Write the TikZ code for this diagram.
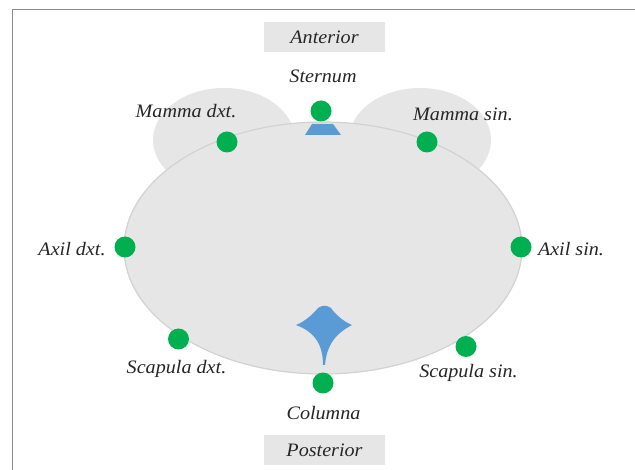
\documentclass[tikz,border=0pt]{standalone}
\usepackage{fontspec}
\setmainfont{Liberation Serif}[ItalicFeatures={FakeStretch=1.06}]
\definecolor{tissue}{HTML}{E6E6E6}
\definecolor{outline}{HTML}{D2D2D2}
\definecolor{bone}{HTML}{5B9BD5}
\definecolor{lead}{HTML}{00B050}
\definecolor{frameline}{HTML}{8C8C8C}
\tikzset{
  lbl/.style={font=\fontsize{19}{21}\selectfont\itshape, text=black!85, inner sep=0pt},
  dirbox/.style={fill=tissue, minimum width=121pt, minimum height=30pt, inner sep=0pt, font=\fontsize{19}{21}\selectfont\itshape, text=black!85},
  electrode/.style={circle, fill=lead, minimum size=21pt, inner sep=0pt}
}
\begin{document}
\begin{tikzpicture}[x=1pt,y=-1pt]
  \useasboundingbox (0,0) rectangle (635,470);
  \fill[white] (0,0) rectangle (635,470);
  % open frame along the top and the left
  \draw[frameline, line width=1.1pt] (12.5,470) -- (12.5,9.5) -- (635,9.5);
  % breasts and thorax
  \fill[tissue] (224,140) ellipse [x radius=71, y radius=52];
  \fill[tissue] (420,140) ellipse [x radius=71, y radius=52];
  \draw[outline, fill=tissue, line width=1.2pt] (323,248) ellipse [x radius=199, y radius=126];
  % sternum
  \fill[bone] (312,124) -- (333,124) -- (341,135) -- (305,135) -- cycle;
  % vertebra with spinous process
  \fill[bone] (296,325)
    .. controls (306,321) and (314,313) .. (318,308)
    .. controls (322,305) and (327,305) .. (331,308)
    .. controls (335,314) and (344,322) .. (352,325)
    .. controls (341,331) and (327,340) .. (325,365)
    -- (323,365)
    .. controls (323,345) and (315,332) .. (296,325) -- cycle;
  % orientation labels
  \node[dirbox] (ant) at (324.5,37) {Anterior};
  \node[dirbox] (post) at (324.5,450) {Posterior};
  % electrode sites
  \node[electrode] (st) at (321,111) {};
  \node[electrode] (md) at (227,142) {};
  \node[electrode] (ms) at (427,142) {};
  \node[electrode] (ad) at (125,247) {};
  \node[electrode] (as) at (521,247) {};
  \node[electrode] (sd) at (178.5,339) {};
  \node[electrode] (ss) at (466,346.5) {};
  \node[electrode] (co) at (323,383) {};
  % site labels
  \node[lbl] (lst) at (323,76) {Sternum};
  \node[lbl] (lmd) at (186,111) {Mamma dxt.};
  \node[lbl] (lms) at (463,114) {Mamma sin.};
  \node[lbl] (lad) at (72,249) {Axil dxt.};
  \node[lbl] (las) at (571,249) {Axil sin.};
  \node[lbl] (lsd) at (176.5,369) {Scapula dxt.};
  \node[lbl] (lss) at (468.5,373) {Scapula sin.};
  \node[lbl] (lco) at (323.5,413) {Columna};
\end{tikzpicture}
\end{document}
